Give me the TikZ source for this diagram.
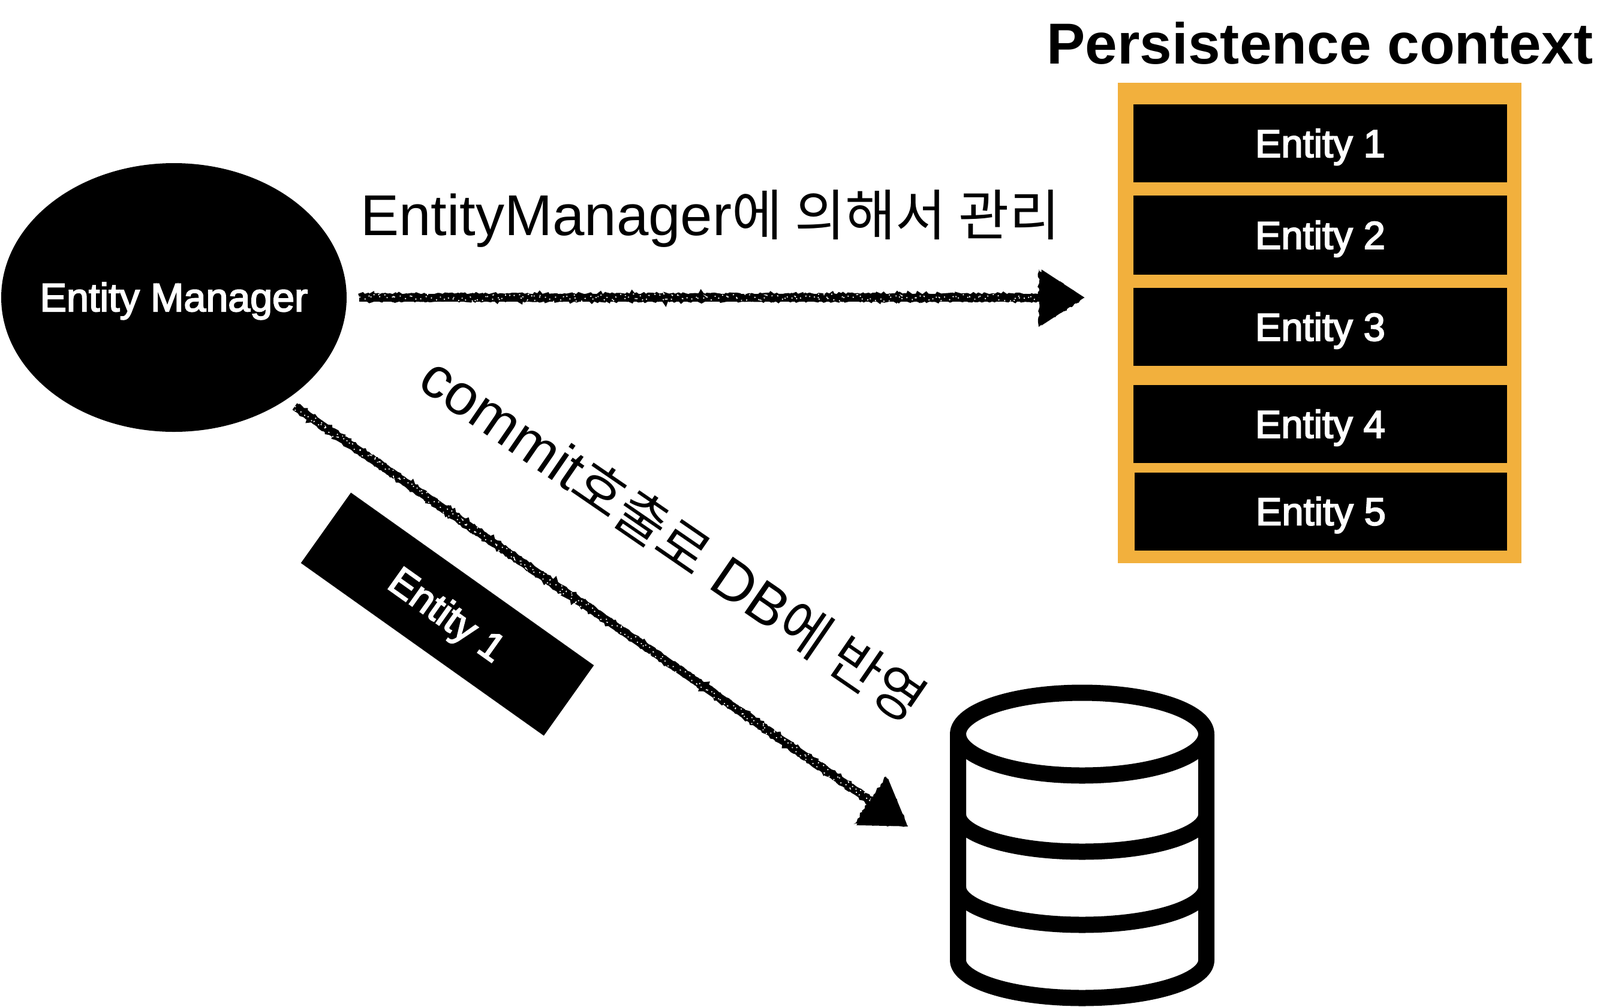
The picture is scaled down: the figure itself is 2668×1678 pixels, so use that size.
\documentclass[tikz,border=0pt]{standalone}
\usepackage{fontspec}
\setmainfont{Liberation Sans}
\newfontfamily\hangul[Scale=0.955]{Noto Sans CJK KR}
\newfontfamily\medium[FakeBold=3]{Liberation Sans}
\usetikzlibrary{shapes.geometric, arrows.meta, calc, decorations.pathmorphing}
\definecolor{ctxorange}{HTML}{F2B03D}

\begin{document}
\begin{tikzpicture}[
    x=0.5pt, y=-0.5pt,
    blk/.style={fill=black, text=white, inner sep=0pt, text height=23pt, text depth=0pt, font={\fontsize{32.5pt}{36pt}\medium}},
    ent/.style={blk, minimum width=311.5pt, minimum height=65pt},
    lbl/.style={inner sep=0pt, font={\fontsize{48pt}{54pt}\selectfont}},
    rough/.style={line width=6.5pt, -{Triangle[length=36pt, width=45pt]},
        postaction={draw, -, line width=6.5pt, shorten >=28pt,
            decorate, decoration={random steps, segment length=1.6pt, amplitude=0.9pt, post length=30pt}},
        postaction={draw, -, white, line width=0.9pt, dash pattern=on 0.9pt off 4pt,
            decorate, decoration={random steps, segment length=2.3pt, amplitude=3.4pt}}},
    head/.style={fill=black, decorate, decoration={random steps, segment length=2pt, amplitude=1pt}},
    dbline/.style={line width=13.5pt, line join=round}
]
    \useasboundingbox (0,0) rectangle (2668,1678);

    % ===== manager =====
    \node[blk, font={\fontsize{33.2pt}{36pt}\medium}, ellipse, inner xsep=-20pt, minimum width=288pt, minimum height=224pt] (manager) at (290,496) {Entity Manager};

    % ===== persistence context =====
    \node[fill=ctxorange, minimum width=336.5pt, minimum height=400.5pt, inner sep=0pt] (ctx) at (2200.5,538.5) {};
    \node[inner sep=0pt, font={\fontsize{48.2pt}{54pt}\selectfont\bfseries}] (ctxtitle) at (2201,72) {Persistence context};
    \node[ent] (e1) at (2201.5,239) {Entity 1};
    \node[ent, minimum height=66pt] (e2) at (2201.5,392) {Entity 2};
    \node[ent] (e3) at (2201.5,545) {Entity 3};
    \node[ent] (e4) at (2201.5,707) {Entity 4};
    \node[ent, minimum width=310.5pt] (e5) at (2202.5,852.5) {Entity 5};

    % ===== entity on its way =====
    \node[blk, font={\fontsize{33pt}{36pt}\medium}, minimum width=248.5pt, minimum height=72pt, rotate=-35.4] (moving) at (746,1024) {Entity 1};

    % ===== database =====
    \coordinate (dbtip) at (1514,1378);
    \draw[dbline] (1804.5,1224) ellipse [x radius=207, y radius=69];
    \draw[dbline] (1597.5,1224) -- (1597.5,1601) arc[start angle=180, end angle=360, x radius=103.5pt, y radius=31.5pt] -- (2011.5,1224);
    \draw[dbline] (1597.5,1358) arc[start angle=180, end angle=360, x radius=103.5pt, y radius=31pt];
    \draw[dbline] (1597.5,1479) arc[start angle=180, end angle=360, x radius=103.5pt, y radius=31.5pt];

    % ===== arrows =====
    \draw[rough] ($(manager.east)+(21,0)$) -- ($(manager.east -| ctx.west)+(-55,0)$);
    \fill[head] (1809,497) -- (1732,449) -- (1732,545) -- cycle;
    \draw[rough] ($(manager.-42.7)+(13,12)$) -- (dbtip);
    \fill[head, rotate around={-34.3:(dbtip)}] (dbtip) -- ++(-77,-48) -- ++(0,96) -- cycle;
    \node[lbl, anchor=base west] (managed) at (601,392) {EntityManager{\hangul 에 의해서 관리}};
    \node[lbl, rotate=-34.5] (commit) at (1123,898) {commit{\hangul 호출로} DB{\hangul 에 반영}};
\end{tikzpicture}
\end{document}
